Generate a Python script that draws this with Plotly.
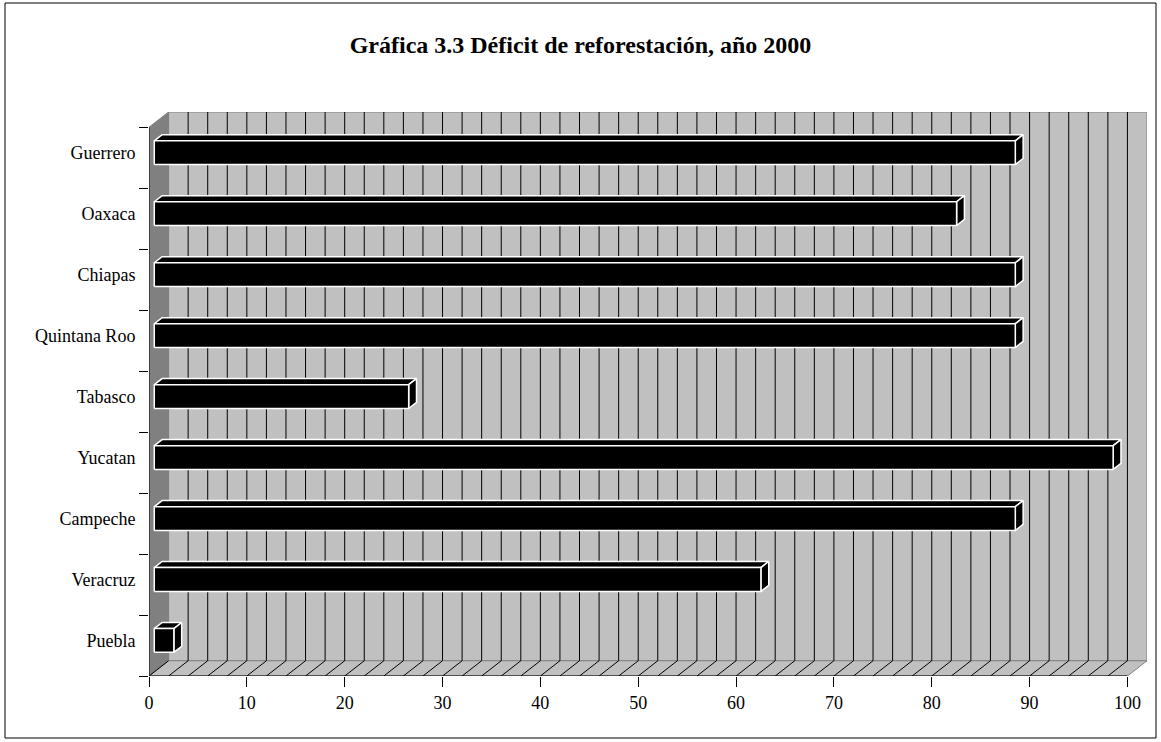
import plotly.graph_objects as go

# ---- data ----
states = ["Puebla", "Veracruz", "Campeche", "Yucatan", "Tabasco",
          "Quintana Roo", "Chiapas", "Oaxaca", "Guerrero"]
values = [2, 62, 88, 98, 26, 88, 88, 82, 88]
x_ticks = list(range(0, 101, 10))
grid_step = 2
title = "Gráfica 3.3 Déficit de reforestación, año 2000"

# ---- geometry (pseudo-3D) ----
W, H = 1161, 742
L, R, T, B = 149, 14, 112, 66
X_MAX = 100
DX, DY = 2.0, 0.25          # depth offset of the back wall in data units
N = len(states)
D0, D1 = 0.27, 0.67         # bar depth extent (fraction of depth)
BAR_LO, BAR_HI = 0.32, 0.71 # bar extent within a category band
FONT = "Liberation Serif"

fig = go.Figure()

def poly(xs, ys, fill, line, width=1, name=""):
    fig.add_trace(go.Scatter(x=xs, y=ys, mode="lines", fill="toself",
                             fillcolor=fill, line=dict(color=line, width=width),
                             hoverinfo="skip", showlegend=False, name=name))

def lines(xs, ys, color, width=1):
    fig.add_trace(go.Scatter(x=xs, y=ys, mode="lines",
                             line=dict(color=color, width=width),
                             hoverinfo="skip", showlegend=False))

# back wall
poly([DX, X_MAX + DX, X_MAX + DX, DX, DX], [DY, DY, N + DY, N + DY, DY], "#C0C0C0", "#808080")
# left wall
poly([0, DX, DX, 0, 0], [0, DY, N + DY, N, 0], "#808080", "#808080")
# floor
poly([0, X_MAX, X_MAX + DX, DX, 0], [0, 0, DY, DY, 0], "#C0C0C0", "#808080")

# gridlines on back wall and hatch on floor
gx, gy, hx, hy = [], [], [], []
for g in range(0, X_MAX + 1, grid_step):
    if 0 < g < X_MAX:
        gx += [g + DX, g + DX, None]
        gy += [DY, N + DY, None]
    if g < X_MAX:
        hx += [g, g + DX, None]
        hy += [0, DY, None]
lines(gx, gy, "#000000", 1)
lines(hx, hy, "#000000", 1)

# axis lines (front edges)
lines([0, X_MAX], [0, 0], "#000000", 1)
lines([0, 0], [0, N], "#000000", 1)

# bars
sx, sy = (D1 - D0) * DX, (D1 - D0) * DY
fx, fy, tx, ty, rx, ry = [], [], [], [], [], []
for i, v in enumerate(values):
    yb = i + BAR_LO + D0 * DY
    yt = i + BAR_HI + D0 * DY
    x0 = D0 * DX
    x1 = v + D0 * DX
    fx += [x0, x1, x1, x0, x0, None]
    fy += [yb, yb, yt, yt, yb, None]
    tx += [x0, x1, x1 + sx, x0 + sx, x0, None]
    ty += [yt, yt, yt + sy, yt + sy, yt, None]
    rx += [x1, x1 + sx, x1 + sx, x1, x1, None]
    ry += [yb, yb + sy, yt + sy, yt, yb, None]
poly(tx, ty, "#000000", "#FFFFFF", 1.5)
poly(rx, ry, "#000000", "#FFFFFF", 1.5)
poly(fx, fy, "#000000", "#FFFFFF", 1.5)

label_pos = [i + (BAR_LO + BAR_HI) / 2 + D0 * DY for i in range(N)]

pw = W - L - R
ph = H - T - B
fig.update_layout(
    width=W, height=H,
    margin=dict(l=L, r=R, t=T, b=B, pad=0),
    paper_bgcolor="white", plot_bgcolor="white",
    font=dict(family=FONT, size=18, color="black"),
    title=dict(text="<b>" + title + "</b>", x=0.5, xref="container", xanchor="center",
               y=1 - 45 / H, yref="container", yanchor="middle",
               font=dict(family=FONT, size=24, color="black")),
    xaxis=dict(range=[0, X_MAX + DX], tickvals=x_ticks, ticks="outside", ticklen=10,
               tickcolor="black", showgrid=False, zeroline=False, showline=False,
               fixedrange=True),
    yaxis=dict(range=[0, N + DY], tickvals=list(range(N + 1)), ticks="outside", ticklen=9,
               tickcolor="black", showticklabels=False, showgrid=False, zeroline=False,
               showline=False),
    yaxis2=dict(range=[0, N + DY], overlaying="y", side="left", anchor="x",
                tickvals=label_pos, ticktext=states, ticks="outside", ticklen=9,
                tickcolor="rgba(0,0,0,0)", showgrid=False, zeroline=False, showline=False),
    shapes=[dict(type="rect", xref="paper", yref="paper",
                 x0=(5 - L) / pw, x1=(1156 - L) / pw,
                 y0=(H - B - 738) / ph, y1=(H - B - 3) / ph,
                 line=dict(color="black", width=1), fillcolor="rgba(0,0,0,0)", layer="below")],
)
# dummy trace so yaxis2 is rendered
fig.add_trace(go.Scatter(x=[None], y=[None], yaxis="y2", showlegend=False, hoverinfo="skip"))

fig.write_html("out.html", config={"displayModeBar": False},
               post_script="document.body.style.margin='0';document.body.style.overflow='hidden';")
